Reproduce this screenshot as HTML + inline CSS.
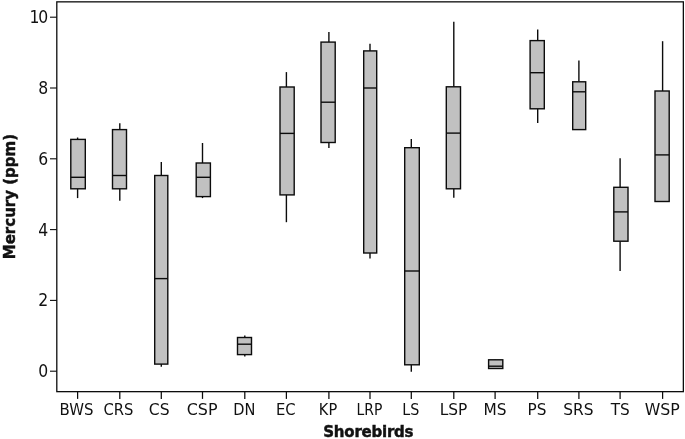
<!DOCTYPE html>
<html><head><meta charset="utf-8"><title>Boxplot</title>
<style>
html,body{margin:0;padding:0;background:#fff;}
svg{display:block;}
text{font-family:"DejaVu Sans","Liberation Sans",sans-serif;fill:#111;}
.t{font-size:15.5px;}
.b{font-size:15px;font-weight:bold;}
</style></head><body>
<svg width="685" height="439" viewBox="0 0 685 439">
<rect x="0" y="0" width="685" height="439" fill="#fff"/>
<rect x="56.8" y="1.85" width="626.55" height="389.80" fill="none" stroke="#0c0c0c" stroke-width="1.3"/>
<line x1="50" x2="56.8" y1="371.2" y2="371.2" stroke="#0c0c0c" stroke-width="1.1"/>
<text class="t" style="font-size:16px" transform="translate(48.3,377.15) scale(0.98,1.05)" text-anchor="end">0</text>
<line x1="50" x2="56.8" y1="300.4" y2="300.4" stroke="#0c0c0c" stroke-width="1.1"/>
<text class="t" style="font-size:16px" transform="translate(48.3,306.35) scale(0.98,1.05)" text-anchor="end">2</text>
<line x1="50" x2="56.8" y1="229.6" y2="229.6" stroke="#0c0c0c" stroke-width="1.1"/>
<text class="t" style="font-size:16px" transform="translate(48.3,235.55) scale(0.98,1.05)" text-anchor="end">4</text>
<line x1="50" x2="56.8" y1="158.8" y2="158.8" stroke="#0c0c0c" stroke-width="1.1"/>
<text class="t" style="font-size:16px" transform="translate(48.3,164.75) scale(0.98,1.05)" text-anchor="end">6</text>
<line x1="50" x2="56.8" y1="88.0" y2="88.0" stroke="#0c0c0c" stroke-width="1.1"/>
<text class="t" style="font-size:16px" transform="translate(48.3,93.95) scale(0.98,1.05)" text-anchor="end">8</text>
<line x1="50" x2="56.8" y1="17.2" y2="17.2" stroke="#0c0c0c" stroke-width="1.1"/>
<text class="t" style="font-size:16px" transform="translate(48.3,23.15) scale(0.98,1.05)" text-anchor="end">1<tspan dx="-1.1">0</tspan></text>
<line x1="77.6" x2="77.6" y1="391.65" y2="398.9" stroke="#0c0c0c" stroke-width="1.25"/>
<text class="t" transform="translate(59.53,415.05) scale(0.9643,1)">BWS</text>
<line x1="119.8" x2="119.8" y1="391.65" y2="398.9" stroke="#0c0c0c" stroke-width="1.25"/>
<text class="t" transform="translate(103.42,415.05) scale(0.9521,1)">CRS</text>
<line x1="161.3" x2="161.3" y1="391.65" y2="398.9" stroke="#0c0c0c" stroke-width="1.25"/>
<text class="t" transform="translate(148.80,415.05) scale(1.0053,1)">CS</text>
<line x1="202.5" x2="202.5" y1="391.65" y2="398.9" stroke="#0c0c0c" stroke-width="1.25"/>
<text class="t" transform="translate(186.68,415.05) scale(1.0284,1)">CSP</text>
<line x1="244.8" x2="244.8" y1="391.65" y2="398.9" stroke="#0c0c0c" stroke-width="1.25"/>
<text class="t" transform="translate(233.34,415.05) scale(0.9410,1)">DN</text>
<line x1="286.4" x2="286.4" y1="391.65" y2="398.9" stroke="#0c0c0c" stroke-width="1.25"/>
<text class="t" transform="translate(276.03,415.05) scale(0.9550,1)">EC</text>
<line x1="328.9" x2="328.9" y1="391.65" y2="398.9" stroke="#0c0c0c" stroke-width="1.25"/>
<text class="t" transform="translate(318.85,415.05) scale(0.9393,1)">KP</text>
<line x1="370.0" x2="370.0" y1="391.65" y2="398.9" stroke="#0c0c0c" stroke-width="1.25"/>
<text class="t" transform="translate(356.51,415.05) scale(0.8984,1)">LRP</text>
<line x1="411.3" x2="411.3" y1="391.65" y2="398.9" stroke="#0c0c0c" stroke-width="1.25"/>
<text class="t" transform="translate(402.37,415.05) scale(0.9219,1)">LS</text>
<line x1="453.8" x2="453.8" y1="391.65" y2="398.9" stroke="#0c0c0c" stroke-width="1.25"/>
<text class="t" transform="translate(439.68,415.05) scale(0.9948,1)">LSP</text>
<line x1="495.1" x2="495.1" y1="391.65" y2="398.9" stroke="#0c0c0c" stroke-width="1.25"/>
<text class="t" transform="translate(483.39,415.05) scale(0.9917,1)">MS</text>
<line x1="537.7" x2="537.7" y1="391.65" y2="398.9" stroke="#0c0c0c" stroke-width="1.25"/>
<text class="t" transform="translate(527.53,415.05) scale(0.9874,1)">PS</text>
<line x1="578.9" x2="578.9" y1="391.65" y2="398.9" stroke="#0c0c0c" stroke-width="1.25"/>
<text class="t" transform="translate(563.26,415.05) scale(0.9936,1)">SRS</text>
<line x1="620.1" x2="620.1" y1="391.65" y2="398.9" stroke="#0c0c0c" stroke-width="1.25"/>
<text class="t" transform="translate(610.75,415.05) scale(0.9880,1)">TS</text>
<line x1="662.6" x2="662.6" y1="391.65" y2="398.9" stroke="#0c0c0c" stroke-width="1.25"/>
<text class="t" transform="translate(644.68,415.05) scale(1.0182,1)">WSP</text>
<line x1="77.6" x2="77.6" y1="137.5" y2="139.4" stroke="#0c0c0c" stroke-width="1.4"/>
<line x1="77.6" x2="77.6" y1="188.8" y2="198.10000000000002" stroke="#0c0c0c" stroke-width="1.4"/>
<rect x="70.80" y="139.40" width="14.50" height="49.40" fill="#c1c1c1" stroke="#0c0c0c" stroke-width="1.4"/>
<line x1="70.80" x2="85.30" y1="177.3" y2="177.3" stroke="#0c0c0c" stroke-width="1.4"/>
<line x1="119.8" x2="119.8" y1="123.2" y2="129.60000000000002" stroke="#0c0c0c" stroke-width="1.4"/>
<line x1="119.8" x2="119.8" y1="188.8" y2="200.8" stroke="#0c0c0c" stroke-width="1.4"/>
<rect x="112.50" y="129.60" width="14.00" height="59.20" fill="#c1c1c1" stroke="#0c0c0c" stroke-width="1.4"/>
<line x1="112.50" x2="126.50" y1="175.5" y2="175.5" stroke="#0c0c0c" stroke-width="1.4"/>
<line x1="161.3" x2="161.3" y1="162.1" y2="175.5" stroke="#0c0c0c" stroke-width="1.4"/>
<line x1="161.3" x2="161.3" y1="364.1" y2="366.8" stroke="#0c0c0c" stroke-width="1.4"/>
<rect x="154.70" y="175.50" width="13.10" height="188.60" fill="#c1c1c1" stroke="#0c0c0c" stroke-width="1.4"/>
<line x1="154.70" x2="167.80" y1="278.6" y2="278.6" stroke="#0c0c0c" stroke-width="1.4"/>
<line x1="202.5" x2="202.5" y1="143.0" y2="163.0" stroke="#0c0c0c" stroke-width="1.4"/>
<line x1="202.5" x2="202.5" y1="196.60000000000002" y2="198.10000000000002" stroke="#0c0c0c" stroke-width="1.4"/>
<rect x="196.20" y="163.00" width="14.20" height="33.60" fill="#c1c1c1" stroke="#0c0c0c" stroke-width="1.4"/>
<line x1="196.20" x2="210.40" y1="177.3" y2="177.3" stroke="#0c0c0c" stroke-width="1.4"/>
<line x1="244.8" x2="244.8" y1="335.4" y2="337.5" stroke="#0c0c0c" stroke-width="1.4"/>
<line x1="244.8" x2="244.8" y1="354.6" y2="356.40000000000003" stroke="#0c0c0c" stroke-width="1.4"/>
<rect x="237.50" y="337.50" width="14.00" height="17.10" fill="#c1c1c1" stroke="#0c0c0c" stroke-width="1.4"/>
<line x1="237.50" x2="251.50" y1="344.2" y2="344.2" stroke="#0c0c0c" stroke-width="1.4"/>
<line x1="286.4" x2="286.4" y1="72.10000000000001" y2="87.0" stroke="#0c0c0c" stroke-width="1.4"/>
<line x1="286.4" x2="286.4" y1="194.9" y2="222.20000000000002" stroke="#0c0c0c" stroke-width="1.4"/>
<rect x="280.00" y="87.00" width="14.20" height="107.90" fill="#c1c1c1" stroke="#0c0c0c" stroke-width="1.4"/>
<line x1="280.00" x2="294.20" y1="133.4" y2="133.4" stroke="#0c0c0c" stroke-width="1.4"/>
<line x1="328.9" x2="328.9" y1="31.9" y2="42.099999999999994" stroke="#0c0c0c" stroke-width="1.4"/>
<line x1="328.9" x2="328.9" y1="142.5" y2="148.0" stroke="#0c0c0c" stroke-width="1.4"/>
<rect x="321.00" y="42.10" width="14.20" height="100.40" fill="#c1c1c1" stroke="#0c0c0c" stroke-width="1.4"/>
<line x1="321.00" x2="335.20" y1="102.2" y2="102.2" stroke="#0c0c0c" stroke-width="1.4"/>
<line x1="370.0" x2="370.0" y1="43.699999999999996" y2="50.9" stroke="#0c0c0c" stroke-width="1.4"/>
<line x1="370.0" x2="370.0" y1="253.0" y2="258.5" stroke="#0c0c0c" stroke-width="1.4"/>
<rect x="363.70" y="50.90" width="13.00" height="202.10" fill="#c1c1c1" stroke="#0c0c0c" stroke-width="1.4"/>
<line x1="363.70" x2="376.70" y1="88.0" y2="88.0" stroke="#0c0c0c" stroke-width="1.4"/>
<line x1="411.3" x2="411.3" y1="139.0" y2="147.70000000000002" stroke="#0c0c0c" stroke-width="1.4"/>
<line x1="411.3" x2="411.3" y1="364.8" y2="371.8" stroke="#0c0c0c" stroke-width="1.4"/>
<rect x="404.70" y="147.70" width="14.60" height="217.10" fill="#c1c1c1" stroke="#0c0c0c" stroke-width="1.4"/>
<line x1="404.70" x2="419.30" y1="271.0" y2="271.0" stroke="#0c0c0c" stroke-width="1.4"/>
<line x1="453.8" x2="453.8" y1="21.7" y2="86.8" stroke="#0c0c0c" stroke-width="1.4"/>
<line x1="453.8" x2="453.8" y1="188.8" y2="197.8" stroke="#0c0c0c" stroke-width="1.4"/>
<rect x="446.30" y="86.80" width="14.20" height="102.00" fill="#c1c1c1" stroke="#0c0c0c" stroke-width="1.4"/>
<line x1="446.30" x2="460.50" y1="133.10000000000002" y2="133.10000000000002" stroke="#0c0c0c" stroke-width="1.4"/>
<line x1="495.1" x2="495.1" y1="359.4" y2="359.8" stroke="#0c0c0c" stroke-width="1.4"/>
<rect x="488.60" y="359.80" width="14.20" height="8.70" fill="#c1c1c1" stroke="#0c0c0c" stroke-width="1.4"/>
<line x1="488.60" x2="502.80" y1="366.2" y2="366.2" stroke="#0c0c0c" stroke-width="1.4"/>
<line x1="537.7" x2="537.7" y1="29.5" y2="40.599999999999994" stroke="#0c0c0c" stroke-width="1.4"/>
<line x1="537.7" x2="537.7" y1="108.8" y2="123.1" stroke="#0c0c0c" stroke-width="1.4"/>
<rect x="530.10" y="40.60" width="14.20" height="68.20" fill="#c1c1c1" stroke="#0c0c0c" stroke-width="1.4"/>
<line x1="530.10" x2="544.30" y1="72.7" y2="72.7" stroke="#0c0c0c" stroke-width="1.4"/>
<line x1="578.9" x2="578.9" y1="60.6" y2="81.8" stroke="#0c0c0c" stroke-width="1.4"/>
<rect x="572.70" y="81.80" width="13.00" height="47.80" fill="#c1c1c1" stroke="#0c0c0c" stroke-width="1.4"/>
<line x1="572.70" x2="585.70" y1="91.8" y2="91.8" stroke="#0c0c0c" stroke-width="1.4"/>
<line x1="620.1" x2="620.1" y1="158.3" y2="187.3" stroke="#0c0c0c" stroke-width="1.4"/>
<line x1="620.1" x2="620.1" y1="241.20000000000002" y2="271.1" stroke="#0c0c0c" stroke-width="1.4"/>
<rect x="613.80" y="187.30" width="14.20" height="53.90" fill="#c1c1c1" stroke="#0c0c0c" stroke-width="1.4"/>
<line x1="613.80" x2="628.00" y1="211.9" y2="211.9" stroke="#0c0c0c" stroke-width="1.4"/>
<line x1="662.6" x2="662.6" y1="41.199999999999996" y2="91.0" stroke="#0c0c0c" stroke-width="1.4"/>
<rect x="655.00" y="91.00" width="14.20" height="110.50" fill="#c1c1c1" stroke="#0c0c0c" stroke-width="1.4"/>
<line x1="655.00" x2="669.20" y1="154.9" y2="154.9" stroke="#0c0c0c" stroke-width="1.4"/>
<text class="b" x="368.4" y="436.9" text-anchor="middle" textLength="90.2" lengthAdjust="spacing" stroke="#111" stroke-width="0.45">Shorebirds</text>
<text class="b" transform="translate(14.5,196.6) rotate(-90)" text-anchor="middle" stroke="#111" stroke-width="0.45">Mercury (ppm)</text>
</svg>
</body></html>
